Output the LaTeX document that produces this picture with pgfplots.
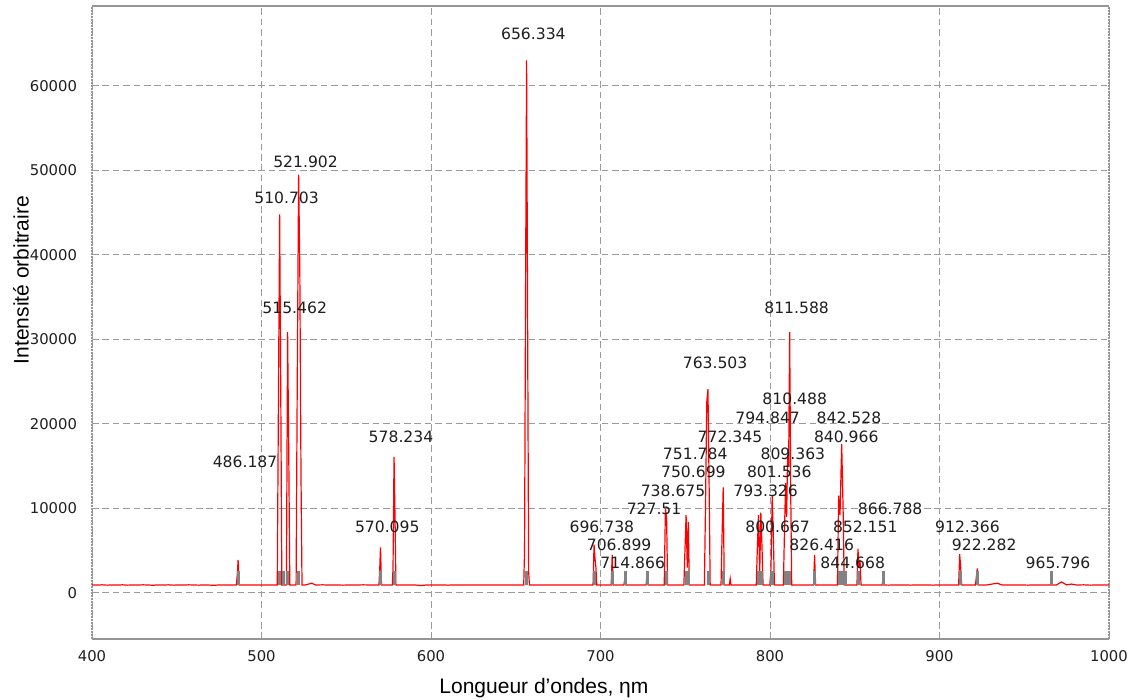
\documentclass[border=0pt]{standalone}
\usepackage{fontspec}
\setmainfont{Liberation Sans}
\newfontfamily\dejavu{DejaVu Sans}
\usepackage{pgfplots}
\pgfplotsset{compat=1.18}
\definecolor{specred}{RGB}{255,0,0}
\definecolor{markgray}{RGB}{130,130,130}
\definecolor{gridgray}{RGB}{155,155,155}
\definecolor{framegray}{RGB}{150,150,150}
\definecolor{txt}{RGB}{30,30,30}
\begin{document}
\begin{tikzpicture}
\begin{axis}[
  scale only axis, width=508.5pt, height=316.5pt,
  xmin=400, xmax=1000, ymin=-5450, ymax=69450,
  xtick={400,500,...,1000}, ytick={0,10000,...,60000},
  grid=major,
  major grid style={gridgray, line width=0.5pt, dash pattern=on 3.3pt off 1.9pt},
  axis line style={draw=none},
  major tick length=0pt,
  clip=false,
  tick label style={font=\dejavu\fontsize{7.4}{8}\selectfont, text=txt},
  /pgf/number format/assume math mode=true,
  scaled y ticks=false,
  yticklabel style={/pgf/number format/1000 sep={}, xshift=-4pt},
  xticklabel style={/pgf/number format/1000 sep={}, yshift=-2.2pt},
  xlabel={Longueur d’ondes, ηm},
  ylabel={Intensité orbitraire},
  every axis x label/.style={at={(axis description cs:0.4444,-0.077)}, anchor=center, font=\fontsize{10.5}{12}\selectfont},
  every axis y label/.style={at={(axis description cs:-0.0698,0.567)}, rotate=90, anchor=center, font=\fontsize{10.5}{12}\selectfont},
]
% frame
\draw[framegray, line width=1pt] (rel axis cs:0,1) -- (rel axis cs:1,1);
\draw[framegray, line width=1pt] (rel axis cs:0,0) -- (rel axis cs:1,0);
\draw[framegray, line width=1.2pt, dash pattern=on 1pt off 0.5pt] (rel axis cs:0,0) -- (rel axis cs:0,1);
\draw[framegray, line width=1.2pt, dash pattern=on 1pt off 0.5pt] (rel axis cs:1,0) -- (rel axis cs:1,1);

% spectrum
\addplot[specred, line width=0.6pt, mark=none] coordinates {
(400,960) (403,930) (406,960) (409,920) (412,950) (415,930) (418,960) (421,920)
(424,950) (427,930) (430,960) (433,940) (436,910) (439,950) (442,930) (445,960)
(448,920) (451,950) (454,930) (457,960) (460,940) (463,920) (466,950) (469,930)
(472,900) (475,950) (478,930) (481,950) (484,940)
(485.2,950) (485.8,2400) (486.2,3900) (486.8,950)
(489,940) (493,950) (497,930) (501,950) (505,940)
(509.3,950) (510.0,23000) (510.7,44800) (511.4,22500) (512.0,950)
(512.6,950) (512.9,1300) (513.2,950)
(514.7,950) (515.4,30900) (516.1,16000) (516.7,950)
(518.5,940)
(520.4,950) (521.1,25200) (521.9,49500) (522.6,38300) (523.3,14000) (523.9,950)
(526,950) (529.6,1150) (532,940) (536,960) (540,930) (544,950) (548,920) (552,950)
(556,930) (560,960) (564,940) (567,950)
(569.3,950) (569.8,3100) (570.2,5400) (570.8,950)
(573,940)
(577.2,950) (577.6,3000) (578.2,16100) (578.8,8600) (579.3,950)
(582,950) (586,930) (590,950) (594,880) (598,950) (602,930) (606,950) (610,920)
(614,950) (618,930) (622,950) (626,940) (630,950) (634,930) (638,950) (642,940)
(646,950) (650,940)
(654.7,950) (655.2,5000) (655.8,36200) (656.4,63000) (657.0,32000) (657.6,2500) (658.1,950)
(661,950) (665,940) (670,950) (675,930) (680,950) (685,940) (690,950)
(695.6,950) (696.2,5700) (696.8,4000) (697.3,3000) (697.8,950)
(700,950) (703,940)
(706.3,950) (706.9,4500) (707.5,950)
(710,950)
(713.8,950) (714.3,1600) (714.9,950)
(718,940) (722,950)
(726.9,950) (727.5,2400) (728.1,950)
(731,940) (735,950)
(737.6,950) (738.3,10000) (739.0,8800) (739.6,950)
(742,950) (746,940)
(749.2,950) (749.8,4900) (750.5,9200) (751.2,3000) (751.8,8400) (752.4,950)
(756,950) (759,940)
(761.3,950) (762.0,11000) (762.7,22600) (763.4,24100) (764.1,12400) (764.7,950)
(767.5,950)
(771.1,950) (771.7,6600) (772.4,12500) (773.0,950)
(776.0,950) (776.5,1700) (777.0,950)
(780,950) (784,940) (788,950)
(791.9,950) (792.5,5100) (793.2,9200) (793.9,2000) (794.6,9500) (795.3,5300) (795.9,950)
(798,950)
(799.9,950) (800.6,3000) (801.3,11600) (802.0,6400) (802.6,950)
(805,950)
(807.9,950) (808.5,6900) (809.2,13000) (809.8,9000) (810.4,16300) (811.0,15000) (811.6,30900) (812.2,12400) (812.8,950)
(816,940) (820,950)
(825.7,950) (826.3,4500) (826.9,950)
(830,950) (834,940) (837,950)
(839.8,950) (840.5,11500) (841.3,9200) (842.3,17600) (843.2,9200) (843.8,950)
(844.3,950) (844.7,1300) (845.1,950)
(848,950)
(851.3,950) (851.9,5200) (852.5,3000) (853.1,3900) (853.7,950)
(856,940) (860,950) (863,930)
(866.2,950) (866.6,1600) (867.0,950)
(870,920) (873,950) (876,930) (880,950) (883,920) (886,950) (890,930) (893,950)
(896,920) (900,950) (903,930) (906,950) (909,940)
(911.3,950) (911.9,4600) (912.5,3000) (913.1,950)
(915,940) (918,950)
(921.2,950) (921.8,2000) (922.3,2900) (922.9,950)
(925,940) (928,950) (934,1150) (937,940) (940,950) (944,930) (948,950) (952,920)
(956,950) (960,930)
(965.4,950) (965.8,1150) (966.2,950)
(969,950) (972,1300) (975,950) (978,1050) (981,930) (985,960) (989,920) (993,950)
(997,930) (1000,950)
};

% gray line markers
\addplot[markgray, line width=1.5pt, mark=none, unbounded coords=jump] coordinates {
(486.187,950) (486.187,2550) (486.187,nan)
(510.703,950) (510.703,2550) (510.703,nan)
(512.9,950) (512.9,2550) (512.9,nan)
(515.462,950) (515.462,2550) (515.462,nan)
(521.902,950) (521.902,2550) (521.902,nan)
(570.095,950) (570.095,2550) (570.095,nan)
(578.234,950) (578.234,2550) (578.234,nan)
(656.334,950) (656.334,2550) (656.334,nan)
(696.738,950) (696.738,2550) (696.738,nan)
(706.899,950) (706.899,2550) (706.899,nan)
(714.866,950) (714.866,2550) (714.866,nan)
(727.51,950) (727.51,2550) (727.51,nan)
(738.675,950) (738.675,2550) (738.675,nan)
(750.699,950) (750.699,2550) (750.699,nan)
(751.784,950) (751.784,2550) (751.784,nan)
(763.503,950) (763.503,2550) (763.503,nan)
(772.345,950) (772.345,2550) (772.345,nan)
(793.326,950) (793.326,2550) (793.326,nan)
(794.847,950) (794.847,2550) (794.847,nan)
(800.667,950) (800.667,2550) (800.667,nan)
(801.536,950) (801.536,2550) (801.536,nan)
(809.363,950) (809.363,2550) (809.363,nan)
(810.488,950) (810.488,2550) (810.488,nan)
(811.588,950) (811.588,2550) (811.588,nan)
(826.416,950) (826.416,2550) (826.416,nan)
(840.966,950) (840.966,2550) (840.966,nan)
(842.528,950) (842.528,2550) (842.528,nan)
(844.668,950) (844.668,2550) (844.668,nan)
(852.151,950) (852.151,2550) (852.151,nan)
(866.788,950) (866.788,2550) (866.788,nan)
(912.366,950) (912.366,2550) (912.366,nan)
(922.282,950) (922.282,2550) (922.282,nan)
(965.796,950) (965.796,2550)
};

% peak labels
\begin{scope}[every node/.style={font=\dejavu\fontsize{7.8}{9}\selectfont, text=txt, inner sep=0pt, anchor=center}]
\node at (axis cs:490.3,15500) {486.187};
\node at (axis cs:514.8,46750) {510.703};
\node at (axis cs:519.6,33730) {515.462};
\node at (axis cs:526.0,51000) {521.902};
\node at (axis cs:574.2,7810) {570.095};
\node at (axis cs:582.3,18500) {578.234};
\node at (axis cs:660.4,66150) {656.334};
\node at (axis cs:700.8,7810) {696.738};
\node at (axis cs:711.0,5680) {706.899};
\node at (axis cs:719.0,3550) {714.866};
\node at (axis cs:731.6,10000) {727.51};
\node at (axis cs:742.8,12070) {738.675};
\node at (axis cs:754.8,14320) {750.699};
\node at (axis cs:755.9,16450) {751.784};
\node at (axis cs:767.6,27220) {763.503};
\node at (axis cs:776.4,18500) {772.345};
\node at (axis cs:797.4,12070) {793.326};
\node at (axis cs:798.6,20710) {794.847};
\node at (axis cs:804.5,7810) {800.667};
\node at (axis cs:805.5,14320) {801.536};
\node at (axis cs:813.5,16450) {809.363};
\node at (axis cs:814.6,22960) {810.488};
\node at (axis cs:815.7,33730) {811.588};
\node at (axis cs:830.5,5680) {826.416};
\node at (axis cs:845.0,18500) {840.966};
\node at (axis cs:846.6,20710) {842.528};
\node at (axis cs:848.8,3550) {844.668};
\node at (axis cs:856.2,7810) {852.151};
\node at (axis cs:870.9,10000) {866.788};
\node at (axis cs:916.5,7810) {912.366};
\node at (axis cs:926.4,5680) {922.282};
\node at (axis cs:969.9,3550) {965.796};
\end{scope}
\end{axis}
\pgfresetboundingbox
\path[use as bounding box] ([xshift=-46pt,yshift=-30.5pt]current axis.south west) rectangle ([xshift=9.5pt,yshift=3pt]current axis.north east);
\end{tikzpicture}
\end{document}
